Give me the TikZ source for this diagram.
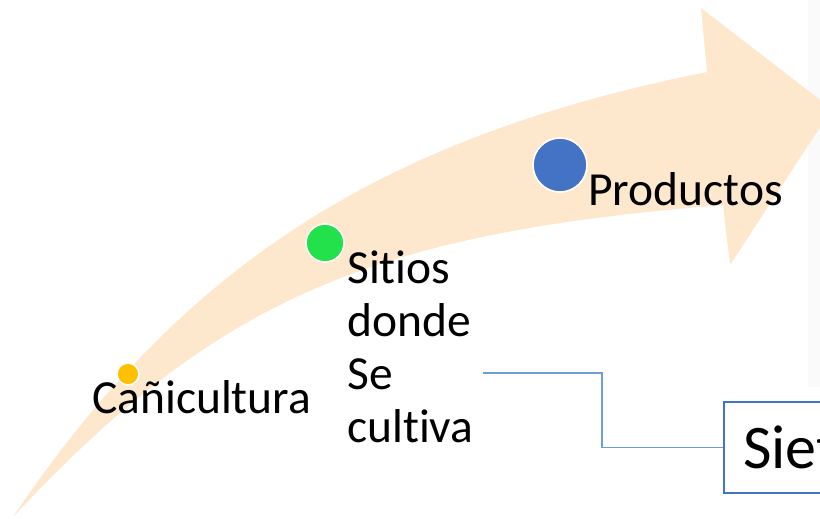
\documentclass[tikz,border=0pt]{standalone}
\usepackage{fontspec}
\setmainfont{Carlito}[Ligatures={NoCommon,NoContextual}]
\definecolor{arrowfill}{HTML}{FDE7CD}
\definecolor{dotyellow}{HTML}{FFC000}
\definecolor{dotgreen}{HTML}{23E14B}
\definecolor{dotblue}{HTML}{4472C4}
\definecolor{conn}{HTML}{6F9DD8}
\definecolor{boxline}{HTML}{4472C4}
\definecolor{edgegray}{HTML}{FAFAFA}
\tikzset{
  dot/.style={circle, draw=white, line width=1.6pt, inner sep=0pt},
  lbl/.style={anchor=base west, inner sep=0pt, font=\fontsize{47.5}{53}\selectfont},
  connline/.style={draw=conn, line width=1.3pt},
  boxst/.style={draw=boxline, line width=2pt, fill=white, anchor=west, minimum height=91pt,
    text width=200pt, inner xsep=19pt, align=left, font=\fontsize{62}{70}\selectfont}
}
\begin{document}
\begin{tikzpicture}[x=1pt,y=-1pt]
\useasboundingbox (0,0) rectangle (820,519);
\clip (0,0) rectangle (820,519);
% faint slide edge
\fill[edgegray] (808,0) rectangle (820,387);
% curved arrow
\fill[arrowfill] (13,517) .. controls (181,268) and (377,138) .. (707,72)
  -- (701,8) -- (832,109) -- (730,265) -- (723,205)
  .. controls (373,233) and (217,298) .. (13,517) -- cycle;
% dots
\node[dot, fill=dotyellow, minimum size=22pt] (d1) at (128,374) {};
\node[dot, fill=dotgreen, minimum size=38pt] (d2) at (325,243) {};
\node[dot, fill=dotblue, minimum size=54pt] (d3) at (560,165) {};
% labels
\node[lbl] (l1) at (92,413) {Cañicultura};
\node[lbl, align=left] (l2) at (347,442) {Sitios\\donde\\Se\\cultiva};
\node[lbl] (l3) at (588,205) {Productos};
% box
\node[boxst] (box) at (723,447.5) {Siet};
% connector
\coordinate (c0) at (483,373);
\coordinate (c1) at (602,373);
\draw[connline] (c0) -- (c1) |- (box.west);
\end{tikzpicture}
\end{document}
